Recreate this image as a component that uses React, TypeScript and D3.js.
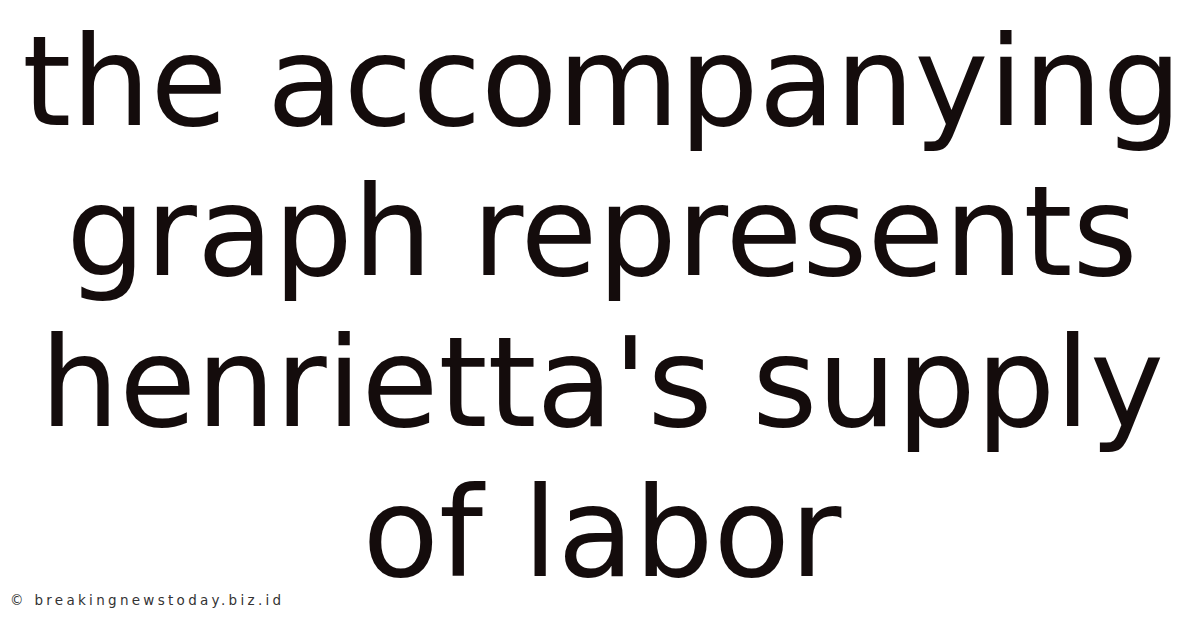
import React, { useEffect, useRef } from "react";
import * as d3 from "d3";

const titleLines = ["the accompanying", "graph represents", "henrietta's supply", "of labor"];
const baselines = [125, 275, 426, 576];
const watermark = "© breakingnewstoday.biz.id";

const App: React.FC = () => {
  const svgRef = useRef<SVGSVGElement | null>(null);

  useEffect(() => {
    if (!svgRef.current) return;
    const svg = d3.select(svgRef.current);
    svg.selectAll("*").remove();

    const width = 1200;
    const height = 628;

    svg.append("rect").attr("width", width).attr("height", height).attr("fill", "#ffffff");

    svg.append("g")
      .selectAll("text")
      .data(titleLines)
      .enter()
      .append("text")
      .attr("x", width / 2 + 2)
      .attr("y", (d, i) => baselines[i])
      .attr("text-anchor", "middle")
      .attr("font-family", "DejaVu Sans")
      .attr("font-size", 125)
      .attr("fill", "#140c0c")
      .text(d => d);

    // watermark, wide letter spacing
    svg.append("text")
      .attr("x", 10)
      .attr("y", 605)
      .attr("font-family", "DejaVu Sans")
      .attr("font-size", 13.5)
      .attr("letter-spacing", 3.3)
      .attr("fill", "#333333")
      .text(watermark);
  }, []);

  return (
    <svg
      ref={svgRef}
      width={1200}
      height={628}
      style={{ position: "absolute", left: 0, top: 0, display: "block" }}
    />
  );
};

export default App;
